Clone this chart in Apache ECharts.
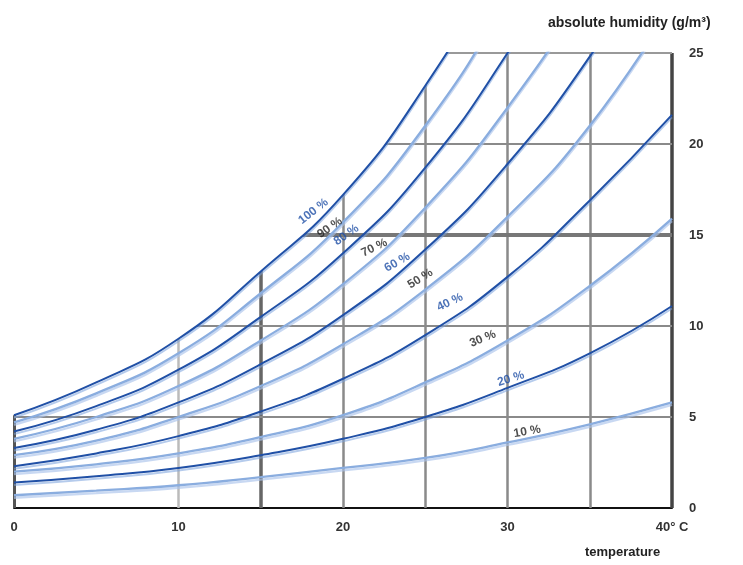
<!DOCTYPE html>
<html>
<head>
<meta charset="utf-8">
<script src="https://cdn.jsdelivr.net/npm/echarts@6/dist/echarts.min.js"></script>
<style>
html,body{margin:0;padding:0;background:#fff;}
#chart{width:743px;height:565px;}
</style>
</head>
<body>
<div id="chart"></div>
<script>
// ---- data ----
const temps = [0, 5, 10, 15, 20, 25, 30, 35, 40];           // °C
const rh100 = [5.1, 6.9, 9.3, 13.0, 17.2, 23.2, 30.8, 40.0, 51.5];
const rh90  = [4.7, 6.3, 8.5, 11.8, 15.7, 21.0, 28.0, 36.2, 46.5];
const rh80  = [4.2, 5.6, 7.6, 10.5, 14.0, 18.7, 25.0, 32.4, 41.8];
const rh70  = [3.8, 5.0, 6.7, 9.2, 12.3, 16.5, 22.0, 28.8, 37.0];
const rh60  = [3.3, 4.3, 5.8, 7.9, 10.6, 14.2, 18.9, 24.8, 32.0];
const rh50  = [2.9, 3.7, 5.0, 6.7, 9.0, 12.0, 16.0, 21.0, 27.6];
const rh40  = [2.3, 3.0, 3.95, 5.3, 7.1, 9.5, 12.7, 16.9, 21.6];
const rh30  = [2.0, 2.4, 3.0, 3.9, 5.1, 6.9, 9.2, 12.2, 15.9];
const rh20  = [1.4, 1.75, 2.2, 2.9, 3.8, 5.0, 6.6, 8.5, 11.1];
const rh10  = [0.7, 0.95, 1.25, 1.7, 2.2, 2.75, 3.6, 4.6, 5.8];
const curveNames = ['100 %', '90 %', '80 %', '70 %', '60 %', '50 %', '40 %', '30 %', '20 %', '10 %'];
const curveValues = [rh100, rh90, rh80, rh70, rh60, rh50, rh40, rh30, rh20, rh10];

// curve label anchors (temperature, humidity)
const labelT = [18.2, 19.2, 20.2, 21.9, 23.3, 24.7, 26.5, 28.5, 30.2, 31.2];
const labelH = [16.3, 15.4, 15.0, 14.3, 13.5, 12.6, 11.3, 9.3, 7.1, 4.2];

// axis ticks / grid lines
const xTicks = [0, 10, 20, 30, 40];
const yTicks = [0, 5, 10, 15, 20, 25];
const vGrid = [0, 10, 15, 20, 25, 30, 35, 40];
const hGrid = [5, 10, 15, 20, 25];

// ---- styles ----
const DARK = '#2050a6';
const LIGHT = '#8aaddf';
const SMOOTH = 0.5;
const labelRot = [38, 35, 35, 26, 30, 32, 25, 22, 17, 10];
const vGridStyle = {0: ['#555', 3], 10: ['#bbb', 2.5], 15: ['#666', 3.5], 40: ['#444', 3.5]};
const hGridStyle = {15: ['#777', 4], 25: ['#999', 2]};

// Same smoothing as ECharts line series (pixel space), sampled into a polyline
function smoothSamples(pts, smooth) {
  const out = [[pts[0][0], pts[0][1]]];
  let prev = pts[0], cp0 = [pts[0][0], pts[0][1]];
  const mn = Math.min, mx = Math.max;
  for (let i = 1; i < pts.length; i++) {
    const cur = pts[i];
    let cp1, ncp0 = null;
    if (i === pts.length - 1) {
      cp1 = [cur[0], cur[1]];
    } else {
      const next = pts[i + 1];
      let vx = next[0] - prev[0], vy = next[1] - prev[1];
      const lp = Math.hypot(cur[0] - prev[0], cur[1] - prev[1]);
      const ln = Math.hypot(next[0] - cur[0], next[1] - cur[1]);
      const r = ln / (ln + lp);
      let nx = cur[0] + vx * smooth * r, ny = cur[1] + vy * smooth * r;
      nx = mn(nx, mx(next[0], cur[0])); ny = mn(ny, mx(next[1], cur[1]));
      nx = mx(nx, mn(next[0], cur[0])); ny = mx(ny, mn(next[1], cur[1]));
      vx = nx - cur[0]; vy = ny - cur[1];
      let c1x = cur[0] - vx * lp / ln, c1y = cur[1] - vy * lp / ln;
      c1x = mn(c1x, mx(prev[0], cur[0])); c1y = mn(c1y, mx(prev[1], cur[1]));
      c1x = mx(c1x, mn(prev[0], cur[0])); c1y = mx(c1y, mn(prev[1], cur[1]));
      cp1 = [c1x, c1y];
      vx = cur[0] - c1x; vy = cur[1] - c1y;
      ncp0 = [cur[0] + vx * ln / lp, cur[1] + vy * ln / lp];
    }
    for (let s = 1; s <= 24; s++) {
      const t = s / 24, u = 1 - t;
      out.push([
        u*u*u*prev[0] + 3*u*u*t*cp0[0] + 3*u*t*t*cp1[0] + t*t*t*cur[0],
        u*u*u*prev[1] + 3*u*u*t*cp0[1] + 3*u*t*t*cp1[1] + t*t*t*cur[1]
      ]);
    }
    cp0 = ncp0; prev = cur;
  }
  return out;
}

const chart = echarts.init(document.getElementById('chart'), null, {renderer: 'canvas'});

const gridLines = [];
vGrid.forEach(v => {
  const s = vGridStyle[v] || ['#8a8a8a', 2.5];
  gridLines.push({xAxis: v, lineStyle: {color: s[0], width: s[1], type: 'solid'}});
});
hGrid.forEach(v => {
  const s = hGridStyle[v] || ['#8a8a8a', 2];
  gridLines.push({yAxis: v, lineStyle: {color: s[0], width: s[1], type: 'solid'}});
});

const series = [];
series.push({
  type: 'line', name: 'grid', z: 1, silent: true,
  data: [[0, 0]], showSymbol: false, lineStyle: {opacity: 0},
  markLine: {z: 1, silent: true, symbol: 'none', label: {show: false}, animation: false, data: gridLines}
});

// white mask above the saturation (100 %) curve so the grid stops at it
series.push({
  type: 'custom', name: 'mask', z: 2, silent: true, clip: false,
  data: [[0, 0]],
  renderItem: (params, api) => {
    const pts = temps.map((t, k) => api.coord([t, rh100[k]]));
    const smp = smoothSamples(pts, SMOOTH);
    const x0 = pts[0][0], y0 = pts[0][1];
    const last = smp[smp.length - 1];
    const poly = [[x0 - 8, y0]].concat(smp, [[last[0], last[1] - 20], [x0 - 8, last[1] - 20]]);
    return {type: 'polygon', shape: {points: poly}, style: {fill: '#ffffff', stroke: null}};
  }
});

curveValues.forEach((vals, i) => {
  const dark = i % 2 === 0;
  series.push({
    type: 'line', name: curveNames[i], z: 3,
    data: temps.map((t, k) => [t, vals[k]]),
    smooth: SMOOTH, showSymbol: false, clip: true,
    lineStyle: {
      color: dark ? DARK : LIGHT, width: dark ? 2 : 2.3,
      shadowColor: dark ? 'rgba(120,160,220,0.55)' : 'rgba(170,195,235,0.65)',
      shadowOffsetY: 2.5, shadowBlur: 0
    }
  });
});

series.push({
  type: 'scatter', z: 6, symbolSize: 0, silent: true,
  data: curveNames.map((n, i) => ({
    value: [labelT[i], labelH[i]],
    label: {
      show: true, position: 'inside', formatter: n, rotate: labelRot[i],
      color: i % 2 === 0 ? DARK : '#222',
      fontSize: 12, fontWeight: 'bold', fontFamily: 'Liberation Sans, Arial, sans-serif'
    }
  }))
});

chart.setOption({
  animation: false,
  backgroundColor: '#fff',
  grid: {left: 14, right: 71, top: 53, bottom: 57, containLabel: false},
  title: [
    {text: 'absolute humidity (g/m³)', left: 543, top: 11,
     textStyle: {fontSize: 14, fontWeight: 'bold', color: '#222', fontFamily: 'Liberation Sans, Arial, sans-serif'}},
    {text: 'temperature', left: 580, top: 541,
     textStyle: {fontSize: 13, fontWeight: 'bold', color: '#222', fontFamily: 'Liberation Sans Narrow, Liberation Sans, Arial, sans-serif'}}
  ],
  xAxis: {
    type: 'value', min: 0, max: 40, interval: 10,
    axisLine: {show: true, lineStyle: {color: '#111', width: 2}},
    axisTick: {show: false}, splitLine: {show: false},
    axisLabel: {
      margin: 13, color: '#333', fontSize: 13, fontWeight: 'bold',
      fontFamily: 'Liberation Sans, Arial, sans-serif',
      formatter: v => (xTicks.indexOf(v) < 0 ? '' : (v === 40 ? '40° C' : String(v)))
    }
  },
  yAxis: {
    type: 'value', position: 'right', min: 0, max: 25, interval: 5,
    axisLine: {show: false}, axisTick: {show: false}, splitLine: {show: false},
    axisLabel: {
      margin: 17, color: '#333', fontSize: 13, fontWeight: 'bold',
      fontFamily: 'Liberation Sans, Arial, sans-serif',
      formatter: v => (yTicks.indexOf(v) < 0 ? '' : String(v))
    }
  },
  series: series
});
</script>
</body>
</html>
